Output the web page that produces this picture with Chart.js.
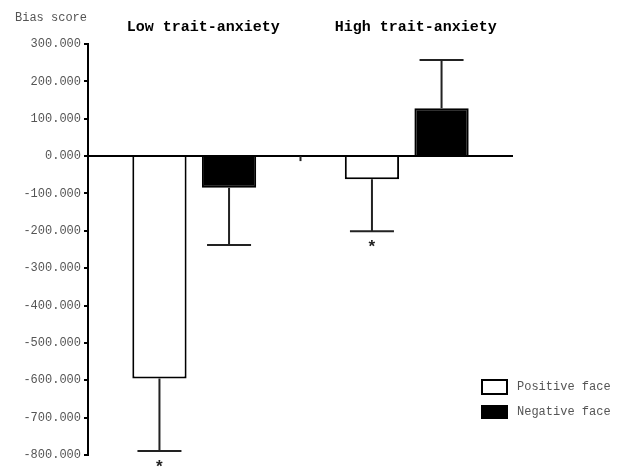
<!DOCTYPE html>
<html>
<head>
<meta charset="utf-8">
<script src="https://cdn.jsdelivr.net/npm/chart.js@4"></script>
<style>
  html, body { margin: 0; padding: 0; background: #fff; }
  #wrap { width: 620px; height: 474px; }
</style>
</head>
<body>
<div id="wrap"><canvas id="biasChart"></canvas></div>
<script>
// data
const groups = ['', 'Low trait-anxiety', '', 'High trait-anxiety', ''];
const positiveFace = [null, -595, null, -62, null];
const negativeFace = [null, -85, null, 128, null];
const positiveErr = [null, 194, null, 139, null];
const negativeErr = [null, 153, null, 129, null];
const positiveSig = [false, true, false, true, false];
const negativeSig = [false, false, false, false, false];
const legendLabels = ['Positive face', 'Negative face'];
const yMin = -800;
const yMax = 300;
const yStep = 100;

const errors = [positiveErr, negativeErr];
const sigs = [positiveSig, negativeSig];

const monoFont = '"Liberation Mono", "DejaVu Sans Mono", monospace';

//error bars, asterisks, middle tick, "Bias score" and the legend
const extras = {
  id: 'extras',
  afterDraw(chart) {
    const ctx = chart.ctx;
    const yScale = chart.scales.y;
    const xScale = chart.scales.x;
    ctx.save();
    ctx.strokeStyle = '#222';
    ctx.lineWidth = 2;

    chart.data.datasets.forEach((ds, i) => {
      const meta = chart.getDatasetMeta(i);
      meta.data.forEach((bar, j) => {
        const v = ds.data[j];
        const err = errors[i][j];
        if (v === null || err === null) return;
        const end = v < 0 ? v - err : v + err;
        const yEnd = yScale.getPixelForValue(end);
        ctx.beginPath();
        ctx.moveTo(bar.x, bar.y);
        ctx.lineTo(bar.x, yEnd);
        ctx.moveTo(bar.x - 22, yEnd);
        ctx.lineTo(bar.x + 22, yEnd);
        ctx.stroke();

        if (sigs[i][j]) {
          ctx.fillStyle = '#222';
          ctx.font = 'bold 17px ' + monoFont;
          ctx.textAlign = 'center';
          ctx.textBaseline = 'middle';
          ctx.fillText('*', bar.x, yEnd + (v < 0 ? 17 : -17));
        }
      });
    });

    //little mark between the groups
    const midX = xScale.getPixelForValue(2);
    const zeroY = yScale.getPixelForValue(0);
    ctx.beginPath();
    ctx.moveTo(midX, zeroY);
    ctx.lineTo(midX, zeroY + 5);
    ctx.stroke();

    //axis caption
    ctx.fillStyle = '#555';
    ctx.font = '12px ' + monoFont;
    ctx.textAlign = 'left';
    ctx.textBaseline = 'middle';
    ctx.fillText('Bias score', 15, 18);

    //legend
    const lx = 481, lw = 27;
    const rows = [{ y: 379, h: 16 }, { y: 405, h: 14 }];
    chart.data.datasets.forEach((ds, i) => {
      const r = rows[i];
      ctx.fillStyle = ds.backgroundColor;
      ctx.fillRect(lx, r.y, lw, r.h);
      ctx.strokeStyle = '#000';
      ctx.lineWidth = 2;
      ctx.strokeRect(lx + 1, r.y + 1, lw - 2, r.h - 2);
      ctx.fillStyle = '#555';
      ctx.font = '12px ' + monoFont;
      ctx.textAlign = 'left';
      ctx.textBaseline = 'middle';
      ctx.fillText(legendLabels[i], 517, r.y + r.h / 2);
    });
    ctx.restore();
  }
};

new Chart(document.getElementById('biasChart'), {
  type: 'bar',
  data: {
    labels: groups,
    datasets: [
      {
        label: legendLabels[0],
        data: positiveFace,
        backgroundColor: '#ffffff',
        borderColor: '#000000',
        borderWidth: 2
      },
      {
        label: legendLabels[1],
        data: negativeFace,
        backgroundColor: '#000000',
        borderColor: '#000000',
        borderWidth: 2
      }
    ]
  },
  options: {
    responsive: true,
    maintainAspectRatio: false,
    animation: false,
    categoryPercentage: 1.31,
    barPercentage: 0.78,
    layout: {
      padding: { left: 0, right: 107, top: 10, bottom: 19 }
    },
    plugins: {
      legend: { display: false },
      tooltip: { enabled: false }
    },
    scales: {
      x: {
        position: 'top',
        offset: false,
        grid: { display: false, drawTicks: false },
        border: { display: false },
        ticks: {
          autoSkip: false,
          maxRotation: 0,
          padding: 8,
          labelOffset: 9,
          color: '#000',
          font: { family: monoFont, size: 15, weight: 'bold' }
        }
      },
      y: {
        min: yMin,
        max: yMax,
        z: 1,
        afterFit: (scale) => { scale.width = 88; },
        border: { display: true, color: '#000', width: 2 },
        grid: {
          color: (c) => (c.tick && c.tick.value === 0 ? '#000' : 'rgba(0,0,0,0)'),
          lineWidth: 2,
          tickColor: '#000',
          tickLength: 4,
          tickWidth: 2
        },
        ticks: {
          stepSize: yStep,
          padding: 3,
          color: '#555',
          font: { family: monoFont, size: 12 },
          callback: (v) => Number(v).toFixed(3)
        }
      }
    }
  },
  plugins: [extras]
});
</script>
</body>
</html>
